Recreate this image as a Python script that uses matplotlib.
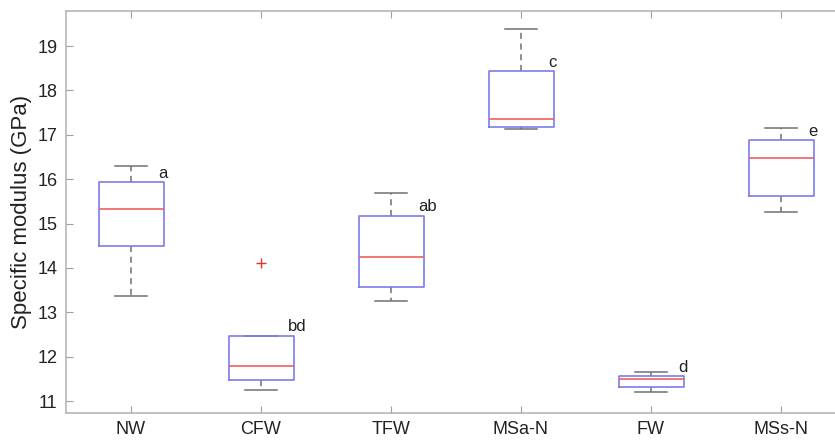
import matplotlib
matplotlib.use("Agg")
import matplotlib.pyplot as plt

categories = ["NW", "CFW", "TFW", "MSa-N", "FW", "MSs-N"]
whislo = [13.37, 11.25, 13.26, 17.12, 11.20, 15.25]
q1 = [14.50, 11.47, 13.58, 17.17, 11.32, 15.63]
med = [15.32, 11.79, 14.25, 17.35, 11.50, 16.47]
q3 = [15.93, 12.47, 15.18, 18.43, 11.56, 16.88]
whishi = [16.29, 12.47, 15.68, 19.38, 11.66, 17.15]
fliers = [[], [14.12], [], [], [], []]
letters = ["a", "bd", "ab", "c", "d", "e"]
yticks = [11, 12, 13, 14, 15, 16, 17, 18, 19]

plt.rcParams['font.family'] = ['Liberation Sans', 'DejaVu Sans']

fig = plt.figure(figsize=(8.35, 4.42), dpi=100)
W, H = 835, 442
left, right, top, bottom = 66, 846, 11, 413
ax = fig.add_axes([left / W, 1 - bottom / H, (right - left) / W, (bottom - top) / H])

stats = []
for i, c in enumerate(categories):
    stats.append(dict(label=c, whislo=whislo[i], q1=q1[i], med=med[i],
                      q3=q3[i], whishi=whishi[i], fliers=fliers[i]))

pos = list(range(1, len(categories) + 1))
ax.bxp(stats, positions=pos, widths=0.5, showfliers=True,
       boxprops=dict(color='#7b7bf0', linewidth=1.2, zorder=4),
       medianprops=dict(color='#f06060', linewidth=1.2, zorder=5),
       whiskerprops=dict(color='#707070', linestyle=(0, (4, 3)), linewidth=1.1, zorder=2),
       capprops=dict(color='#707070', linewidth=1.1, zorder=2),
       capwidths=0.25,
       flierprops=dict(marker='+', markeredgecolor='#e03030', markersize=7, linestyle='none'))

for i, t in enumerate(letters):
    ax.text(pos[i] + 0.21, q3[i] + 0.2, t, ha='left', va='center', fontsize=12, color='#222222')

ax.set_xlim(0.5, 6.5)
ax.set_ylim(10.73, 19.79)
ax.set_yticks(yticks)
ax.set_xticks(pos)
ax.set_xticklabels(categories)
ax.tick_params(direction='in', length=5, color='#a0a0a0', labelsize=13, top=True, right=True,
               labelcolor='#222222', pad=6)
for s in ax.spines.values():
    s.set_color('#b0b0b0')
    s.set_linewidth(1.1)
ax.set_ylabel("Specific modulus (GPa)", fontsize=16, color='#222222', labelpad=4)

fig.savefig("out.png", dpi=100)
